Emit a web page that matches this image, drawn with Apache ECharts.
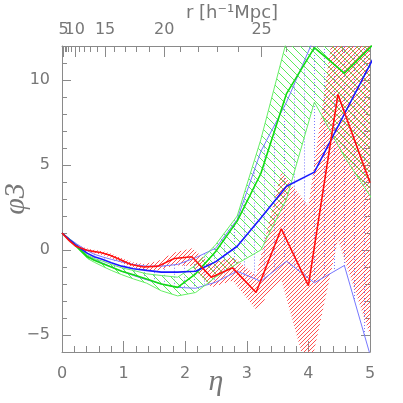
<!DOCTYPE html>
<html>
<head>
<meta charset="utf-8">
<script src="https://cdn.jsdelivr.net/npm/echarts@6/dist/echarts.min.js"></script>
<style>
  html, body { margin: 0; padding: 0; background: #fff; }
  #chart { width: 403px; height: 403px; }
</style>
</head>
<body>
<div id="chart"></div>
<script>
// eta grid of the red sample and of the green / blue samples
const etaRed = [0, 0.117, 0.228, 0.394, 0.5, 0.625, 0.769, 0.933, 1.119, 1.329, 1.562, 1.822, 2.109, 2.425, 2.77, 3.15, 3.56, 4.0, 4.48, 5.0]
const etaBG = [0, 0.126, 0.242, 0.414, 0.524, 0.652, 0.8, 0.969, 1.159, 1.373, 1.612, 1.877, 2.17, 2.492, 2.844, 3.228, 3.645, 4.097, 4.584, 5.108]

// phi_3 for the three samples, with their error bands
const redMid = [1.0, 0.55, 0.22, 0.0, -0.08, -0.15, -0.3, -0.55, -0.85, -1.0, -0.95, -0.5, -0.4, -1.6, -1.05, -2.5, 1.25, -2.1, 9.15, 3.95]
const redLo  = [1.0, 0.5, 0.15, -0.1, -0.18, -0.27, -0.42, -0.7, -1.0, -1.2, -1.2, -0.9, -0.95, -2.2, -1.8, -3.5, -1.75, -7.5, 0.6, -5.0]
const redHi  = [1.0, 0.6, 0.3, 0.1, 0.02, -0.05, -0.18, -0.42, -0.7, -0.82, -0.65, -0.15, 0.1, -0.8, -0.4, -1.5, 4.6, 2.6, 15, 15]

const greenMid = [1.0, 0.58, 0.2, -0.4, -0.6, -0.8, -1.0, -1.25, -1.45, -1.7, -2.0, -2.2, -1.4, -0.1, 1.7, 4.5, 9.2, 11.9, 10.4, 12.3]
const greenLo  = [1.0, 0.52, 0.12, -0.5, -0.72, -0.95, -1.2, -1.45, -1.7, -1.95, -2.4, -2.7, -2.5, -1.6, -0.8, 0.0, 3.0, 8.7, 5.5, 2.6]
const greenHi  = [1.0, 0.64, 0.28, -0.3, -0.5, -0.65, -0.85, -1.05, -1.2, -1.4, -1.5, -1.6, -0.9, 0.3, 2.0, 6.5, 12.3, 15, 15, 15]

const blueMid = [1.0, 0.6, 0.25, -0.2, -0.4, -0.55, -0.75, -0.95, -1.1, -1.2, -1.3, -1.3, -1.25, -0.7, 0.22, 1.88, 3.75, 4.58, 8.0, 11.66]
const blueLo  = [1.0, 0.55, 0.15, -0.35, -0.55, -0.75, -1.0, -1.25, -1.5, -1.75, -2.0, -2.2, -2.25, -1.9, -1.25, -1.84, -0.66, -1.93, -0.91, -7.5]
const blueHi  = [1.0, 0.65, 0.35, -0.05, -0.25, -0.4, -0.55, -0.7, -0.85, -0.95, -0.95, -0.85, -0.45, 0.1, 1.8, 5.8, 8.7, 12.5, 15, 17]

// top axis: separation r in h^-1 Mpc
const rFirst = [5]
const rMajor = [10, 15, 20, 25]
const rMinor = [1, 2, 3, 4, 6, 7, 8, 9, 11, 12, 13, 14, 16, 17, 18, 19, 21, 22, 23, 24, 26, 27, 28]
const yMajor = [-5, 0, 5, 10]

// eta grows like r^3 on this plot
const R_MAX = 28.89
const etaOf = r => 5 * Math.pow(r / R_MAX, 3)
const rOf = eta => R_MAX * Math.cbrt(eta / 5)

const axisGrey = '#8a8a8a'
const textGrey = '#777'
const font = 'DejaVu Sans'

const pairs = (xs, ys) => xs.map((x, i) => [x, ys[i]])

// hatch segments (pixel space) cut to a polygon and the plot rect
// kind: 'rise' = /, 'fall' = \, 'vert' = |
function hatchSegments(poly, rc, kind, step) {
  const { x0, y0, x1, y1 } = rc
  const starts = []
  let dir
  if (kind === 'vert') {
    dir = [0, 1]
    for (let x = x0 + 2.5; x < x1; x += step) starts.push([x, y0])
  } else {
    const h = y1 - y0
    dir = kind === 'rise' ? [1, -1] : [1, 1]
    for (let c = x0 - h; c < x1 + h; c += step) starts.push([c, kind === 'rise' ? y1 : y0])
  }
  const segs = []
  for (const p of starts) {
    let tMin = -Infinity, tMax = Infinity
    ;[[0, x0, x1], [1, y0, y1]].forEach(([k, lo, hi]) => {
      if (dir[k] === 0) {
        if (p[k] < lo || p[k] > hi) tMin = Infinity
      } else {
        const a = (lo - p[k]) / dir[k], b = (hi - p[k]) / dir[k]
        tMin = Math.max(tMin, Math.min(a, b))
        tMax = Math.min(tMax, Math.max(a, b))
      }
    })
    if (tMin >= tMax) continue
    const ts = []
    for (let i = 0; i < poly.length; i++) {
      const A = poly[i], B = poly[(i + 1) % poly.length]
      const ex = B[0] - A[0], ey = B[1] - A[1]
      const den = dir[0] * ey - dir[1] * ex
      if (Math.abs(den) < 1e-9) continue
      const wx = A[0] - p[0], wy = A[1] - p[1]
      const t = (wx * ey - ex * wy) / den
      const s = (wx * dir[1] - dir[0] * wy) / den
      if (s >= 0 && s < 1) ts.push(t)
    }
    ts.sort((a, b) => a - b)
    for (let i = 0; i + 1 < ts.length; i += 2) {
      const a = Math.max(ts[i], tMin), b = Math.min(ts[i + 1], tMax)
      if (b <= a) continue
      segs.push([[p[0] + a * dir[0], p[1] + a * dir[1]], [p[0] + b * dir[0], p[1] + b * dir[1]]])
    }
  }
  return segs
}

function line(xs, ys, color, width, z) {
  return {
    type: 'line',
    data: pairs(xs, ys),
    symbol: 'none',
    silent: true,
    z,
    itemStyle: { color },
    lineStyle: { color, width }
  }
}

const labelStyle = { color: textGrey, fontFamily: font, fontSize: 16, hideOverlap: false }
const minus = v => (v < 0 ? '\u2212' + Math.abs(v) : String(v))
const rLabel = v => String(Math.round(rOf(v)))

// top axes that only carry r ticks / labels
function topAxis(ticks, tickLen, labels, extra) {
  return Object.assign({
    type: 'value', position: 'top', min: 0, max: 5,
    axisLine: { show: false, onZero: false },
    axisTick: { inside: true, length: tickLen, customValues: ticks.map(etaOf), lineStyle: { color: axisGrey } },
    splitLine: { show: false },
    axisLabel: labels
      ? { ...labelStyle, margin: 8, showMinLabel: true, showMaxLabel: true, customValues: labels.map(etaOf), formatter: rLabel }
      : { show: false }
  }, extra || {})
}

const mainLines = [
  line(etaBG, blueLo, '#7777ff', 1, 4),
  line(etaBG, blueHi, '#7777ff', 1, 4),
  line(etaBG, greenLo, '#66ee66', 1, 4),
  line(etaBG, greenHi, '#66ee66', 1, 4),
  line(etaBG, greenMid, '#11dd11', 1.6, 5),
  line(etaBG, blueMid, '#1a1aff', 1.6, 5),
  line(etaRed, redMid, '#ff1010', 1.6, 6)
]

const option = {
  animation: false,
  grid: { left: 62, right: 33, top: 46, bottom: 51, outerBoundsMode: 'none', containLabel: false },
  xAxis: [
    {
      type: 'value', position: 'bottom', min: 0, max: 5, interval: 1,
      axisLine: { onZero: false, lineStyle: { color: axisGrey } },
      axisTick: { inside: true, length: 11, lineStyle: { color: axisGrey } },
      minorTick: { show: true, splitNumber: 5, length: 6, lineStyle: { color: axisGrey } },
      splitLine: { show: false },
      axisLabel: { ...labelStyle, margin: 14 },
      name: 'η', nameLocation: 'middle', nameGap: 15, nameMoveOverlap: false,
      nameTextStyle: { color: textGrey, fontFamily: 'Liberation Serif', fontStyle: 'italic', fontSize: 30 }
    },
    topAxis(rMinor, 6, null, {
      axisLine: { show: true, onZero: false, lineStyle: { color: axisGrey } },
      name: 'r [h\u207B\u00B9Mpc]', nameLocation: 'middle', nameGap: 24, nameMoveOverlap: false,
      nameTextStyle: { color: textGrey, fontFamily: font, fontSize: 18, padding: [0, 0, 0, 32] }
    }),
    topAxis(rMajor, 11, rMajor),
    topAxis(rFirst, 11, rFirst)
  ],
  yAxis: [
    {
      type: 'value', position: 'left', min: -6, max: 12, interval: 1,
      axisLine: { show: true, onZero: false, lineStyle: { color: axisGrey } },
      axisTick: { inside: true, length: 5, lineStyle: { color: axisGrey } },
      splitLine: { show: false },
      axisLabel: { ...labelStyle, margin: 12, customValues: yMajor, formatter: minus },
      name: 'φ3', nameLocation: 'middle', nameGap: 31, nameRotate: 90, nameMoveOverlap: false,
      nameTextStyle: { color: textGrey, fontFamily: 'Liberation Serif', fontStyle: 'italic', fontSize: 30 }
    },
    {
      type: 'value', position: 'left', min: -6, max: 12,
      axisLine: { show: false, onZero: false },
      axisTick: { inside: true, length: 9, customValues: yMajor, lineStyle: { color: axisGrey } },
      splitLine: { show: false },
      axisLabel: { show: false }
    },
    {
      type: 'value', position: 'right', min: -6, max: 12, interval: 1,
      axisLine: { show: true, onZero: false, lineStyle: { color: axisGrey } },
      axisTick: { inside: true, length: 5, lineStyle: { color: axisGrey } },
      splitLine: { show: false },
      axisLabel: { show: false }
    },
    {
      type: 'value', position: 'right', min: -6, max: 12,
      axisLine: { show: false, onZero: false },
      axisTick: { inside: true, length: 9, customValues: yMajor, lineStyle: { color: axisGrey } },
      splitLine: { show: false },
      axisLabel: { show: false }
    }
  ],
  series: mainLines
}

const chart = echarts.init(document.getElementById('chart'))
chart.setOption(option)

// hatched error bands: build the band outline through the axes, then draw the
// hatch strokes as broken line series in data space
const finder = { xAxisIndex: 0, yAxisIndex: 0 }
const toPx = p => chart.convertToPixel(finder, p)
const toData = p => chart.convertFromPixel(finder, p)
const tl = toPx([0, 12]), br = toPx([5, -6])
const rc = { x0: tl[0], y0: tl[1], x1: br[0], y1: br[1] }

function hatchSeries(xs, lo, hi, kind, step, color, dash, z) {
  const poly = []
  for (let i = 0; i < xs.length; i++) poly.push(toPx([xs[i], lo[i]]))
  for (let i = xs.length - 1; i >= 0; i--) poly.push(toPx([xs[i], hi[i]]))
  const data = []
  hatchSegments(poly, rc, kind, step).forEach(s => {
    data.push(toData(s[0]), toData(s[1]), null)
  })
  return {
    type: 'line',
    data,
    symbol: 'none',
    silent: true,
    connectNulls: false,
    z,
    itemStyle: { color },
    lineStyle: { color, width: 1, type: dash || 'solid' }
  }
}

option.series = [
  hatchSeries(etaBG, blueLo, blueHi, 'vert', 10, 'rgb(120,120,255)', [1, 2], 1),
  hatchSeries(etaBG, greenLo, greenHi, 'fall', 8, 'rgb(90,235,90)', null, 2),
  hatchSeries(etaRed, redLo, redHi, 'rise', 4, 'rgb(255,80,80)', null, 3)
].concat(mainLines)
chart.setOption(option, true)
</script>
</body>
</html>
